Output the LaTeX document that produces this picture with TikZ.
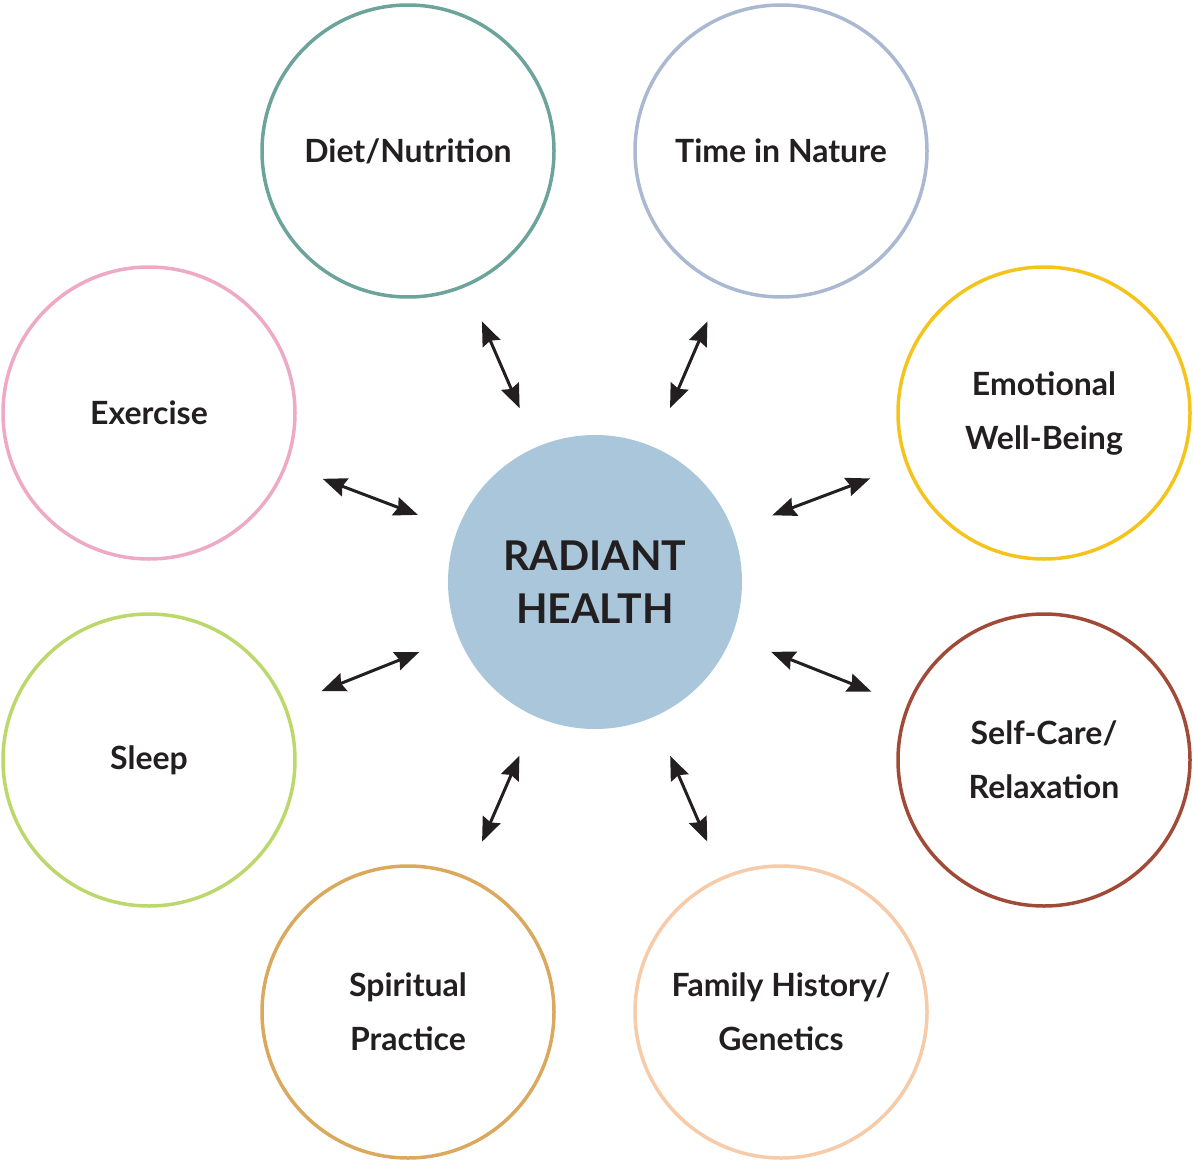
\documentclass[tikz,border=0pt]{standalone}
\usepackage{fontspec}
\setmainfont{Lato}
\usepackage{tikz}
\usetikzlibrary{arrows.meta}
\definecolor{hubBlue}{HTML}{A9C6DB}
\definecolor{inkBlack}{HTML}{231F20}
\definecolor{dietTeal}{HTML}{6CA39A}
\definecolor{natureGrey}{HTML}{ABB8D2}
\definecolor{moodYellow}{HTML}{F5C41C}
\definecolor{careBrown}{HTML}{A24A38}
\definecolor{familyPeach}{HTML}{F7CAA8}
\definecolor{spiritTan}{HTML}{DBA95E}
\definecolor{sleepGreen}{HTML}{BCD86C}
\definecolor{exercisePink}{HTML}{EEA9C4}
\tikzset{
  ring/.style  = {circle, draw, line width=1.75pt, fill=white, minimum size=146pt,
                  align=center, text=inkBlack, inner sep=0pt,
                  font=\bfseries\fontsize{16}{27}\selectfont},
  hub/.style   = {circle, fill=hubBlue, minimum size=147pt, align=center, text=inkBlack,
                  inner sep=0pt, font=\bfseries\fontsize{20.5}{26.5}\selectfont},
  dbl/.style   = {{Stealth[length=12pt,width=9.5pt,inset=1.5pt]}-{Stealth[length=12pt,width=9.5pt,inset=1.5pt]},
                  line width=1.5pt, draw=inkBlack, shorten <=21pt, shorten >=19pt}
}
\begin{document}
\begin{tikzpicture}[x=0.5pt, y=-0.5pt]
  \useasboundingbox (0,0) rectangle (1194,1161);
  % hub
  \node[hub] (health) at (595,582) {RADIANT\\HEALTH};
  % ring of factors
  \node[ring, draw=dietTeal]     (diet)     at (408,151)  {Diet/Nutrition};
  \node[ring, draw=natureGrey]   (nature)   at (781,151)  {Time in Nature};
  \node[ring, draw=moodYellow]   (mood)     at (1044,413) {Emotional\\Well-Being};
  \node[ring, draw=careBrown]    (care)     at (1044,760) {Self-Care/\\Relaxation};
  \node[ring, draw=familyPeach]  (family)   at (781,1012) {Family History/\\Genetics};
  \node[ring, draw=spiritTan]    (spirit)   at (408,1012) {Spiritual\\Practice};
  \node[ring, draw=sleepGreen]   (sleep)    at (149,760)  {Sleep};
  \node[ring, draw=exercisePink] (exercise) at (149,413)  {Exercise};
  \foreach \n in {diet,nature,mood,care,family,spirit,sleep,exercise}
    \draw[dbl] (health) -- (\n);
\end{tikzpicture}
\end{document}
